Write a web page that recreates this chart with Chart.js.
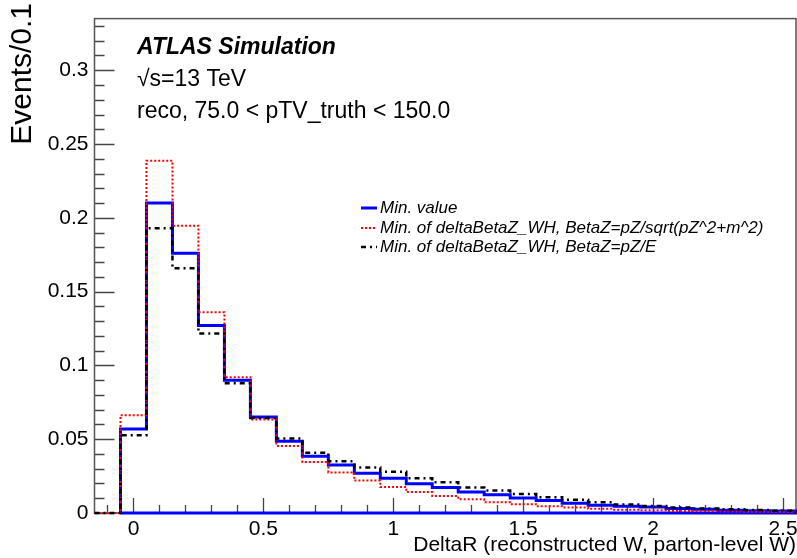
<!DOCTYPE html>
<html>
<head>
<meta charset="utf-8">
<script src="https://cdn.jsdelivr.net/npm/chart.js@4.4.1/dist/chart.umd.min.js"></script>
<style>
  body { margin: 0; background: #fff; }
</style>
</head>
<body>
<canvas id="myChart" width="797" height="558"></canvas>
<script>
// histogram bins, width 0.1
const binCenters = [0, 0.1, 0.2, 0.3, 0.4, 0.5, 0.6, 0.7, 0.8, 0.9, 1.0, 1.1, 1.2,
  1.3, 1.4, 1.5, 1.6, 1.7, 1.8, 1.9, 2.0, 2.1, 2.2, 2.3, 2.4, 2.5];
const binWidth = 0.1;

// Min. value
const minValue = [0.057, 0.210, 0.176, 0.127, 0.090, 0.065, 0.0487, 0.0385, 0.0325,
  0.027, 0.0235, 0.0199, 0.0173, 0.0142, 0.0124, 0.0102, 0.0084, 0.0066, 0.0053,
  0.0046, 0.0040, 0.0031, 0.0025, 0.0018, 0.0015, 0.0013];
// Min. of deltaBetaZ_WH, BetaZ=pZ/sqrt(pZ^2+m^2)
const minSqrt = [0.0663, 0.2387, 0.1946, 0.136, 0.092, 0.0633, 0.0454, 0.0345, 0.0275,
  0.022, 0.0177, 0.0142, 0.0115, 0.0093, 0.0073, 0.006, 0.0046, 0.0038, 0.0029,
  0.0022, 0.0018, 0.0014, 0.0012, 0.001, 0.0008, 0.0006];
// Min. of deltaBetaZ_WH, BetaZ=pZ/E
const minE = [0.0527, 0.193, 0.1658, 0.1216, 0.088, 0.0643, 0.0505, 0.0409, 0.035,
  0.0308, 0.0279, 0.0235, 0.0208, 0.0173, 0.0153, 0.0129, 0.0106, 0.0089, 0.0073,
  0.0058, 0.0047, 0.0038, 0.0031, 0.0025, 0.0021, 0.0016];

const xTicks = [0, 0.5, 1, 1.5, 2, 2.5];
const yTicks = [0, 0.05, 0.1, 0.15, 0.2, 0.25, 0.3];
const xLabels = ['0', '0.5', '1', '1.5', '2', '2.5'];
const yLabels = ['0', '0.05', '0.1', '0.15', '0.2', '0.25', '0.3'];

const yTitle = 'Events/0.1';
const infoLines = ['√s=13 TeV', 'reco, 75.0 < pTV_truth < 150.0'];

const FONT = "'Liberation Sans', Arial, sans-serif";

// turn bin contents into step points (edges)
function histPoints(values, closed) {
  const pts = [];
  const first = binCenters[0] - binWidth / 2;
  const last = binCenters[binCenters.length - 1] + binWidth / 2;
  if (closed) {
    pts.push({x: first, y: 0});
  } else {
    pts.push({x: first - binWidth, y: 0});
    pts.push({x: first, y: 0});
  }
  values.forEach((v, i) => pts.push({x: binCenters[i] - binWidth / 2, y: v}));
  pts.push({x: last, y: values[values.length - 1]});
  pts.push({x: last, y: 0});
  if (closed) pts.push({x: first, y: 0});
  return pts;
}

// frame + inward ticks, ROOT style (drawn under the histograms)
const frameTicks = {
  id: 'frameTicks',
  beforeDatasetsDraw(chart) {
    const {ctx, chartArea: a, scales: {x, y}} = chart;
    ctx.save();
    ctx.strokeStyle = '#444';
    ctx.lineWidth = 1.3;
    ctx.beginPath();
    for (let v = -0.1; v <= 2.55; v += 0.1) {
      const px = Math.round(x.getPixelForValue(v)) + 0.5;
      const major = Math.abs(v * 2 - Math.round(v * 2)) < 1e-6;
      ctx.moveTo(px, a.bottom);
      ctx.lineTo(px, a.bottom - (major ? 15 : 8));
    }
    for (let v = 0; v <= 0.335; v += 0.01) {
      const py = Math.round(y.getPixelForValue(v)) + 0.5;
      const major = Math.abs(v * 20 - Math.round(v * 20)) < 1e-6;
      ctx.moveTo(a.left, py);
      ctx.lineTo(a.left + (major ? 20 : 10), py);
    }
    ctx.stroke();
    ctx.strokeStyle = '#555';
    ctx.lineWidth = 1.5;
    ctx.strokeRect(a.left, a.top, a.right - a.left, a.bottom - a.top);
    ctx.restore();
  }
};

// ATLAS label, y title and legend
const textBox = {
  id: 'textBox',
  afterDraw(chart) {
    const ctx = chart.ctx;
    ctx.save();
    ctx.fillStyle = '#000';
    ctx.textBaseline = 'middle';
    ctx.font = `italic bold 23px ${FONT}`;
    ctx.fillText('ATLAS Simulation', 137, 48);
    ctx.font = `23px ${FONT}`;
    ctx.fillText(infoLines[0], 137, 80);
    ctx.fillText(infoLines[1], 137, 112);

    // rotated y title, top aligned
    ctx.save();
    ctx.translate(23, 3);
    ctx.rotate(-Math.PI / 2);
    ctx.textAlign = 'right';
    ctx.font = `30px ${FONT}`;
    ctx.fillText(yTitle, 0, 0);
    ctx.restore();

    ctx.font = `italic 17px ${FONT}`;
    const rows = [208, 228, 247];
    chart.data.datasets.forEach((ds, i) => {
      const yy = rows[i];
      ctx.strokeStyle = ds.borderColor;
      ctx.lineWidth = ds.borderWidth;
      ctx.setLineDash(ds.borderDash || []);
      ctx.beginPath();
      ctx.moveTo(361, yy);
      ctx.lineTo(377, yy);
      ctx.stroke();
      ctx.setLineDash([]);
      ctx.fillText(ds.label, 380, yy);
    });
    ctx.restore();
  }
};

const ctx = document.getElementById('myChart');

new Chart(ctx, {
  type: 'line',
  data: {
    datasets: [
      {
        label: 'Min. value',
        data: histPoints(minValue, true),
        borderColor: '#0000ff',
        borderWidth: 3,
        order: 3
      },
      {
        label: 'Min. of deltaBetaZ_WH, BetaZ=pZ/sqrt(pZ^2+m^2)',
        data: histPoints(minSqrt, false),
        borderColor: '#ff0000',
        borderWidth: 2,
        borderDash: [2, 2],
        order: 2
      },
      {
        label: 'Min. of deltaBetaZ_WH, BetaZ=pZ/E',
        data: histPoints(minE, false),
        borderColor: '#000000',
        borderWidth: 2.5,
        borderDash: [5, 4, 2, 4],
        order: 1
      }
    ]
  },
  options: {
    responsive: false,
    animation: false,
    layout: {padding: {top: 8, right: 1, left: 0, bottom: 0}},
    elements: {
      line: {stepped: 'before', tension: 0, fill: false},
      point: {radius: 0, hoverRadius: 0}
    },
    datasets: {line: {clip: 4}},
    plugins: {legend: {display: false}, tooltip: {enabled: false}},
    scales: {
      x: {
        type: 'linear',
        min: -0.15,
        max: 2.55,
        afterBuildTicks: (s) => { s.ticks = xTicks.map(v => ({value: v})); },
        afterFit: (s) => { s.height = 45; s.paddingLeft = 0; s.paddingRight = 0; },
        ticks: {
          font: {family: FONT, size: 21},
          color: '#000',
          padding: 4,
          maxRotation: 0,
          autoSkip: false,
          callback: (v, i) => xLabels[i]
        },
        grid: {display: false, drawTicks: false},
        border: {display: false},
        title: {
          display: true,
          text: 'DeltaR (reconstructed W, parton-level W)',
          align: 'end',
          color: '#000',
          font: {family: FONT, size: 21},
          padding: {top: 0, bottom: 0}
        }
      },
      y: {
        type: 'linear',
        min: 0,
        max: 0.335,
        afterBuildTicks: (s) => { s.ticks = yTicks.map(v => ({value: v})); },
        afterFit: (s) => { s.width = 94.5; },
        ticks: {
          font: {family: FONT, size: 21},
          color: '#000',
          padding: 6,
          callback: (v, i) => yLabels[i]
        },
        grid: {display: false, drawTicks: false},
        border: {display: false}
      }
    }
  },
  plugins: [frameTicks, textBox]
});
</script>
</body>
</html>
